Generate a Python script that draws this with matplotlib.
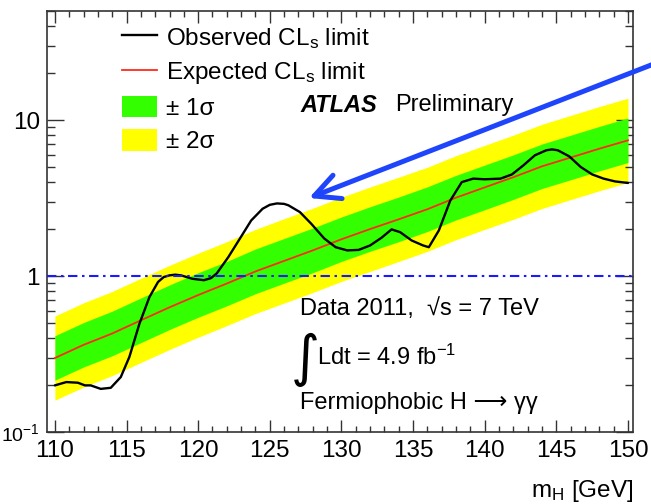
import matplotlib
matplotlib.use("Agg")
import matplotlib.pyplot as plt
from matplotlib.lines import Line2D
from matplotlib.patches import Patch
from matplotlib.ticker import FixedLocator, MultipleLocator, NullFormatter

plt.rcParams['font.family'] = ['Liberation Sans', 'DejaVu Sans']
plt.rcParams['mathtext.fontset'] = 'custom'
plt.rcParams['mathtext.rm'] = 'Liberation Sans'
plt.rcParams['mathtext.it'] = 'Liberation Sans:italic'
plt.rcParams['mathtext.bf'] = 'Liberation Sans:bold'

# ---------------- data ----------------
exp_mass = [110, 112, 114, 116, 118, 120, 122, 124, 126, 128, 130,
            132, 134, 136, 138, 140, 142, 144, 146, 148, 150]
exp_limit = [0.298, 0.362, 0.428, 0.520, 0.630, 0.755, 0.895, 1.07, 1.25, 1.46, 1.72,
             2.00, 2.31, 2.68, 3.18, 3.70, 4.30, 5.05, 5.75, 6.55, 7.41]
band1_lo = [0.215, 0.261, 0.308, 0.374, 0.454, 0.544, 0.644, 0.770, 0.900, 1.05, 1.24,
            1.44, 1.66, 1.93, 2.29, 2.66, 3.10, 3.64, 4.14, 4.72, 5.34]
band1_hi = [0.414, 0.503, 0.595, 0.723, 0.876, 1.05, 1.24, 1.49, 1.74, 2.03, 2.39,
            2.78, 3.21, 3.73, 4.42, 5.14, 5.98, 7.02, 7.99, 9.10, 10.3]
band2_lo = [0.160, 0.194, 0.230, 0.279, 0.338, 0.405, 0.481, 0.575, 0.671, 0.784, 0.924,
            1.07, 1.24, 1.44, 1.71, 1.99, 2.31, 2.71, 3.09, 3.52, 3.98]
band2_hi = [0.554, 0.673, 0.796, 0.967, 1.17, 1.40, 1.66, 1.99, 2.33, 2.72, 3.20,
            3.72, 4.30, 4.98, 5.91, 6.88, 8.00, 9.39, 10.7, 12.2, 13.8]

obs_mass = [110.0, 110.8, 111.6, 112.1, 112.5, 113.2, 113.9, 114.6, 115.2, 115.9,
            116.6, 117.2, 117.6, 118.0, 118.4, 118.8, 119.6, 120.4, 120.9, 121.3,
            122.1, 122.9, 123.7, 124.5, 125.0, 125.5, 126.0, 126.3, 127.1, 127.9,
            128.8, 129.6, 130.4, 131.2, 132.0, 132.8, 133.5, 134.1, 134.9, 135.7,
            136.1, 136.8, 137.6, 138.4, 139.2, 140.0, 141.1, 141.9, 142.7, 143.5,
            144.3, 144.7, 145.1, 145.9, 146.7, 147.5, 148.3, 149.1, 150.0]
obs_limit = [0.199, 0.209, 0.207, 0.199, 0.199, 0.189, 0.192, 0.225, 0.303, 0.494,
             0.733, 0.916, 0.985, 1.01, 1.02, 1.01, 0.96, 0.94, 0.97, 1.04,
             1.32, 1.73, 2.27, 2.70, 2.86, 2.92, 2.90, 2.84, 2.57, 2.16,
             1.74, 1.53, 1.46, 1.47, 1.57, 1.76, 1.99, 1.91, 1.69, 1.57,
             1.53, 1.96, 3.05, 4.00, 4.21, 4.17, 4.21, 4.48, 5.12, 5.94,
             6.40, 6.48, 6.40, 5.85, 5.00, 4.48, 4.21, 4.04, 3.95]

ref_level = 1.0
x_ticks = [110, 115, 120, 125, 130, 135, 140, 145, 150]
y_ticks = [0.1, 1, 10]
y_ticklabels = ['10$^{-1}$', '1', '10']

# ---------------- figure ----------------
W, H = 651, 504
fig = plt.figure(figsize=(W / 100, H / 100), dpi=100)
ax = fig.add_axes([47 / W, (H - 432) / H, 586 / W, 421 / H])

GREEN = '#33ff00'
YELLOW = '#ffff00'

ax.fill_between(exp_mass, band2_lo, band2_hi, color=YELLOW, lw=0, zorder=1)
ax.fill_between(exp_mass, band1_lo, band1_hi, color=GREEN, lw=0, zorder=2)
ax.plot(exp_mass, exp_limit, color='#ff2a1a', lw=1.3, zorder=3)
ax.plot(obs_mass, obs_limit, color='black', lw=1.7, zorder=4,
        solid_joinstyle='round', solid_capstyle='round')
ax.axhline(ref_level, color='#1a1aff', lw=1.5, dashes=(4.5, 2.2, 1.2, 2.2), zorder=5)

ax.set_yscale('log')
ax.set_xlim(109.45, 150.35)
ax.set_ylim(0.1, 50)

ax.xaxis.set_major_locator(FixedLocator(x_ticks))
ax.xaxis.set_minor_locator(MultipleLocator(1))
ax.set_xticklabels([str(t) for t in x_ticks])
ax.yaxis.set_major_locator(FixedLocator(y_ticks))
ax.set_yticklabels(y_ticklabels)
ax.yaxis.set_minor_formatter(NullFormatter())

ax.tick_params(axis='both', which='both', direction='in', top=True, right=True,
               color='#333333', width=1.0, labelsize=17.5)
ax.tick_params(axis='x', which='major', length=8.6, pad=6)
ax.tick_params(axis='x', which='minor', length=4.3)
ax.tick_params(axis='y', which='major', length=12, pad=5)
ax.tick_params(axis='y', which='minor', length=6)
# keep the lowest y label inside the canvas
ax.get_yticklabels()[0].set_fontsize(14)
for s in ax.spines.values():
    s.set_color('#333333')
    s.set_linewidth(1.2)

ax.set_xlabel('m$_\\mathrm{H}$ [GeV]', loc='right', fontsize=17.5, labelpad=11)

# legend
handles = [Line2D([], [], color='black', lw=1.7),
           Line2D([], [], color='#ff2a1a', lw=1.3),
           Patch(facecolor=GREEN, edgecolor='none'),
           Patch(facecolor=YELLOW, edgecolor='none')]
labels = ['Observed CL$_\\mathrm{s}$ limit', 'Expected CL$_\\mathrm{s}$ limit',
          '\u00b1 1\u03c3', '\u00b1 2\u03c3']
ax.legend(handles, labels, loc='upper left', bbox_to_anchor=(0.128, 0.965),
          frameon=False, fontsize=17.5, handlelength=1.45, handleheight=1.0,
          handletextpad=0.35, labelspacing=0.38, borderpad=0, borderaxespad=0)

# texts
ax.text(0.432, 0.776, 'ATLAS', transform=ax.transAxes, fontsize=17,
        fontweight='bold', fontstyle='italic', va='center', ha='left')
ax.text(0.594, 0.776, 'Preliminary', transform=ax.transAxes, fontsize=17,
        va='center', ha='left')
ax.text(0.432, 0.293, 'Data 2011,  \u221as = 7 TeV', transform=ax.transAxes,
        fontsize=17, va='center', ha='left')
ax.text(0.416, 0.170, '\u222b', transform=ax.transAxes, fontsize=40,
        va='center', ha='left', family=['DejaVu Sans'])
ax.text(0.460, 0.178, 'Ldt = 4.9 fb$^{-1}$', transform=ax.transAxes,
        fontsize=17, va='center', ha='left')
ax.text(0.432, 0.069, 'Fermiophobic H \u27f6 \u03b3\u03b3', transform=ax.transAxes,
        fontsize=17, va='center', ha='left')

# blue arrow (annotation)
ax.annotate('', xy=(309, H - 198), xycoords='figure pixels',
            xytext=(700, H - 46), textcoords='figure pixels',
            arrowprops=dict(arrowstyle='->,head_length=0.9,head_width=0.45',
                            color='#1f45fc', lw=3.6, mutation_scale=20,
                            capstyle='round', joinstyle='round',
                            shrinkA=0, shrinkB=0),
            annotation_clip=False, zorder=10)

fig.savefig('out.png', dpi=100)
